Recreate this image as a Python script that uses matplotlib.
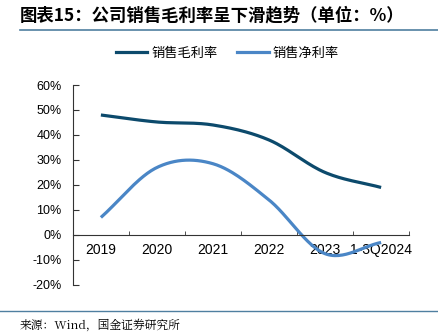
import numpy as np
import matplotlib
matplotlib.use("Agg")
import matplotlib.pyplot as plt
from matplotlib.lines import Line2D

plt.rcParams['font.family'] = ['Liberation Sans', 'Noto Sans CJK SC', 'DejaVu Sans']

# Data (%)
years = ["2019", "2020", "2021", "2022", "2023", "1-3Q2024"]
gross_margin = [48, 45.2, 44, 38, 25, 19]
net_margin = [7, 27, 28.5, 14, -7.5, -3]
series_names = ["销售毛利率", "销售净利率"]
yticks = [-20, -10, 0, 10, 20, 30, 40, 50, 60]

title = "图表15：公司销售毛利率呈下滑趋势（单位：%）"
source = "来源：Wind，国金证券研究所"

dark = "#0c4a6c"
light = "#4a86c6"


def smooth(x, y, n=30):
    # Catmull-Rom style curve through the points (like Excel's smoothed line)
    x = np.asarray(x, float)
    y = np.asarray(y, float)
    px = np.concatenate([[2 * x[0] - x[1]], x, [2 * x[-1] - x[-2]]])
    py = np.concatenate([[2 * y[0] - y[1]], y, [2 * y[-1] - y[-2]]])
    xs, ys = [], []
    t = np.linspace(0, 1, n)
    for i in range(1, len(px) - 2):
        for arr, out in ((px, xs), (py, ys)):
            p0, p1, p2, p3 = arr[i - 1], arr[i], arr[i + 1], arr[i + 2]
            out.extend(0.5 * (2 * p1 + (-p0 + p2) * t
                              + (2 * p0 - 5 * p1 + 4 * p2 - p3) * t ** 2
                              + (-p0 + 3 * p1 - 3 * p2 + p3) * t ** 3))
    return np.array(xs), np.array(ys)


fig = plt.figure(figsize=(4.39, 3.36), dpi=100)
ax = fig.add_axes([0.166, 0.152, 0.766, 0.595])

x = np.arange(len(years))
gx, gy = smooth(x, gross_margin)
nx, ny = smooth(x, net_margin)
ax.plot(gx, gy, color=dark, lw=2.3, solid_capstyle='butt')
ax.plot(nx, ny, color=light, lw=2.3, solid_capstyle='butt')

ax.set_xlim(-0.5, len(years) - 0.5)
ax.set_ylim(-20, 60)
ax.set_yticks(yticks)
ax.set_yticklabels([f"{v}%" for v in yticks], fontsize=9)
ax.set_xticks(x)
ax.set_xticklabels(years, fontsize=9)
ax.set_xticks(np.arange(len(years) + 1) - 0.5, minor=True)

for s in ['top', 'right']:
    ax.spines[s].set_visible(False)
ax.spines['bottom'].set_position(('data', 0))
ax.spines['left'].set_color('#333333')
ax.spines['bottom'].set_color('#333333')
ax.tick_params(axis='y', direction='in', length=4, color='#333333', pad=8)
ax.tick_params(axis='x', which='major', length=0, pad=6)
ax.tick_params(axis='x', which='minor', direction='in', length=3, color='#333333')

# legend
handles = [Line2D([], [], color=dark, lw=2.3), Line2D([], [], color=light, lw=2.3)]
fig.legend(handles, series_names, loc='center', bbox_to_anchor=(0.518, 0.842),
           ncol=2, frameon=False, handlelength=2.4, columnspacing=1.5,
           handletextpad=0.3, prop={'family': ['Noto Sans CJK SC'], 'size': 9.5})

# title and rules
fig.text(0.045, 0.955, title, fontsize=12.5, fontweight='bold', style='italic',
         family=['Noto Sans CJK SC', 'DejaVu Sans'], va='center', ha='left')
fig.add_artist(Line2D([0.045, 1.0], [0.912, 0.912], color='#4f7fa0', lw=1.2))
fig.add_artist(Line2D([0.0, 1.0], [0.075, 0.075], color='#4f7fa0', lw=1.0))
fig.text(0.045, 0.032, source, fontsize=8.5, family=['Noto Serif CJK SC', 'Noto Sans CJK SC', 'DejaVu Sans'],
         va='center', ha='left')

fig.savefig("out.png", dpi=100)
